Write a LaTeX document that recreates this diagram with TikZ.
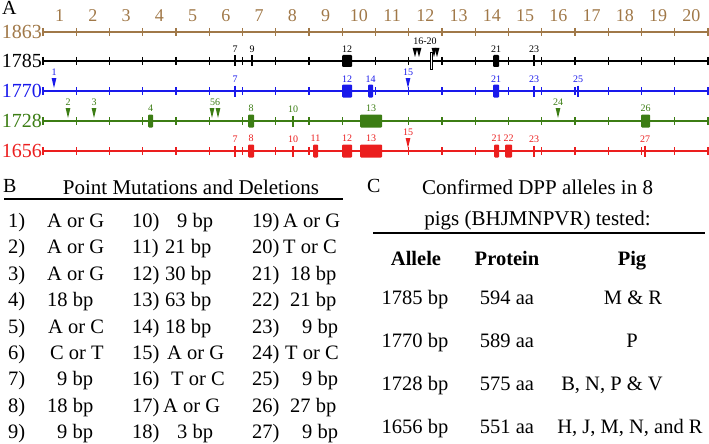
\documentclass[tikz,border=0pt]{standalone}
\usepackage{fontspec}
\setmainfont{Liberation Serif}
\usetikzlibrary{positioning}
\definecolor{trkbrown}{RGB}{160,120,72}
\definecolor{trkblue}{RGB}{25,25,235}
\definecolor{trkgreen}{RGB}{60,125,20}
\definecolor{trkred}{RGB}{235,30,30}

\begin{document}
\begin{tikzpicture}[x=1pt,y=-1pt,
  lbl/.style={inner sep=0pt,font=\fontsize{20}{24}\selectfont},
  rowlab/.style={lbl,anchor=east},
  exnum/.style={inner sep=0pt,font=\fontsize{18}{20}\selectfont,text=trkbrown,anchor=base},
  mlab/.style={inner sep=0pt,font=\fontsize{10}{12}\selectfont},
  ttl/.style={inner sep=0pt,font=\fontsize{21}{24}\selectfont,anchor=base},
  track/.style={line width=1.5pt},
  gtick/.style={line width=1.1pt},
  dtick/.style={line width=1.1pt},
  blk/.style={rounded corners=1pt},
  tbl/.style={inner sep=0pt,font=\fontsize{20.5}{24}\selectfont,anchor=base west},
  hd/.style={inner sep=0pt,font=\fontsize{20.5}{24}\selectfont\bfseries,anchor=base},
  cell/.style={inner sep=0pt,font=\fontsize{20.5}{24}\selectfont,anchor=base}]
\useasboundingbox (0,0) rectangle (709,444);

% A: allele maps
\node[lbl,anchor=base west] (pa) at (2,15) {A};
\foreach \k in {1,...,20}
  \node[exnum] (n\k) at ({43+33.25*(\k-0.5)},22) {\k};
\foreach \y/\c/\r in {32/trkbrown/1863,61/black/1785,91/trkblue/1770,121/trkgreen/1728,151/trkred/1656}{
  \node[rowlab,text=\c] (r\r) at (42,\y) {\r};
  \draw[track,\c] (43,\y) -- (708,\y);
  \foreach \k in {0,...,20}
    \draw[gtick,\c] ({43+33.25*\k},\y-4) -- ++(0,8);
}

\begin{scope}[shift={(0,61)}]
  \filldraw[fill=white,line width=0.6pt] (430,-9) rectangle (432.5,8);
  \foreach \x/\l in {235/7,252/9,534/23}{
    \draw[dtick] (\x,-5.5) -- (\x,5.5);
    \node[mlab] (a\l) at (\x,-12) {\l};}
  \foreach \a/\b/\l in {342/352/12,493/499/21}{
    \fill[blk] (\a,-6) rectangle (\b,6);
    \node[mlab] (a\l) at ({(\a+\b)/2},-12) {\l};}
  \foreach \x in {415,419,434,437}
    \fill (\x-2.4,-13) -- (\x+2.4,-13) -- (\x,-4) -- cycle;
  \node[mlab] (a16) at (425,-20) {16-20};
\end{scope}

\begin{scope}[shift={(0,91)},trkblue]
  \foreach \x/\l in {235/7,534/23,578/25}{
    \draw[dtick] (\x,-5.5) -- (\x,5.5);
    \node[mlab] (b\l) at (\x,-12) {\l};}
  \foreach \a/\b/\l in {342/352/12,368/373/14,493/499/21}{
    \fill[blk] (\a,-6.5) rectangle (\b,6.5);
    \node[mlab] (b\l) at ({(\a+\b)/2},-12) {\l};}
  \foreach \x/\l in {54/1,408/15}{
    \fill (\x-2.4,-13) -- (\x+2.4,-13) -- (\x,-3) -- cycle;
    \node[mlab] (b\l) at (\x,-19) {\l};}
\end{scope}

\begin{scope}[shift={(0,121)},trkgreen]
  \foreach \x/\l in {293/10}{
    \draw[dtick] (\x,-5.5) -- (\x,5.5);
    \node[mlab] (c\l) at (\x,-12) {\l};}
  \foreach \a/\b/\l in {148/153/4,248/254/8,360/382/13,641/650/26}{
    \fill[blk] (\a,-6.5) rectangle (\b,6.5);
    \node[mlab] (c\l) at ({(\a+\b)/2},-13) {\l};}
  \foreach \x/\l in {68/2,94/3,558/24}{
    \fill (\x-2.4,-13) -- (\x+2.4,-13) -- (\x,-3) -- cycle;
    \node[mlab] (c\l) at (\x,-19) {\l};}
  \foreach \x in {212,218}
    \fill (\x-2.4,-13) -- (\x+2.4,-13) -- (\x,-3) -- cycle;
  \node[mlab] (c56) at (215,-19) {56};
\end{scope}

\begin{scope}[shift={(0,151)},trkred]
  \foreach \x/\l in {235/7,293/10,534/23,645/27}{
    \draw[dtick] (\x,-5.5) -- (\x,5.5);
    \node[mlab] (d\l) at (\x,-12) {\l};}
  \foreach \a/\b/\l in {248/254/8,313/318/11,342/352/12,360/382/13,494/499/21,505/512/22}{
    \fill[blk] (\a,-6.5) rectangle (\b,6.5);
    \node[mlab] (d\l) at ({(\a+\b)/2},-13) {\l};}
  \foreach \x/\l in {408/15}{
    \fill (\x-2.4,-13) -- (\x+2.4,-13) -- (\x,-3) -- cycle;
    \node[mlab] (d\l) at (\x,-19) {\l};}
\end{scope}

% B: mutation list
\node[lbl,anchor=base west] (pb) at (3,192) {B};
\node[ttl] (tb) at (191,194) {Point Mutations and Deletions};
\draw[line width=2.6pt] (4,199) -- (343,199);
\foreach \t/\x [count=\i] in {A or G/47,A or G/47,A or G/47,18 bp/47,A or C/48,C or T/50,9 bp/57,18 bp/47,9 bp/57}{
  \node[tbl] (m\i) at (8,{227.5+26.4*(\i-1)}) {\i)};
  \node[tbl] (t\i) at (\x,{227.5+26.4*(\i-1)}) {\t};}
\foreach \t/\x [count=\i from 10] in {9 bp/177,21 bp/165,30 bp/165,63 bp/165,18 bp/165,A or G/167,T or C/171,A or G/163,3 bp/177}{
  \node[tbl] (m\i) at (132,{227.5+26.4*(\i-10)}) {\i)};
  \node[tbl] (t\i) at (\x,{227.5+26.4*(\i-10)}) {\t};}
\foreach \t/\x [count=\i from 19] in {A or G/283,T or C/283,18 bp/290,21 bp/290,9 bp/302,T or C/285,9 bp/302,27 bp/290,9 bp/302}{
  \node[tbl] (m\i) at (252,{227.5+26.4*(\i-19)}) {\i)};
  \node[tbl] (t\i) at (\x,{227.5+26.4*(\i-19)}) {\t};}

% C: confirmed alleles
\node[lbl,anchor=base west] (pc) at (367,192) {C};
\node[ttl] (tc1) at (537.5,194) {Confirmed DPP alleles in 8};
\node[ttl] (tc2) at (537.5,225) {pigs (BHJMNPVR) tested:};
\draw[line width=2.6pt] (373,233) -- (705,233);
\node[hd] (hal) at (416,265) {Allele};
\node[hd] (hpr) at (507,265) {Protein};
\node[hd] (hpg) at (632,265) {Pig};
\foreach \al/\pr/\pg/\px [count=\i] in {1785/594/M \& R/633,1770/589/P/632,1728/575/{B, N, P \& V}/612,1656/551/{H, J, M, N, and R}/630}{
  \node[cell] (ca\i) at (415,{304+43*(\i-1)}) {\al{} bp};
  \node[cell] (cp\i) at (507,{304+43*(\i-1)}) {\pr{} aa};
  \node[cell] (cg\i) at (\px,{304+43*(\i-1)}) {\pg};}
\end{tikzpicture}
\end{document}
